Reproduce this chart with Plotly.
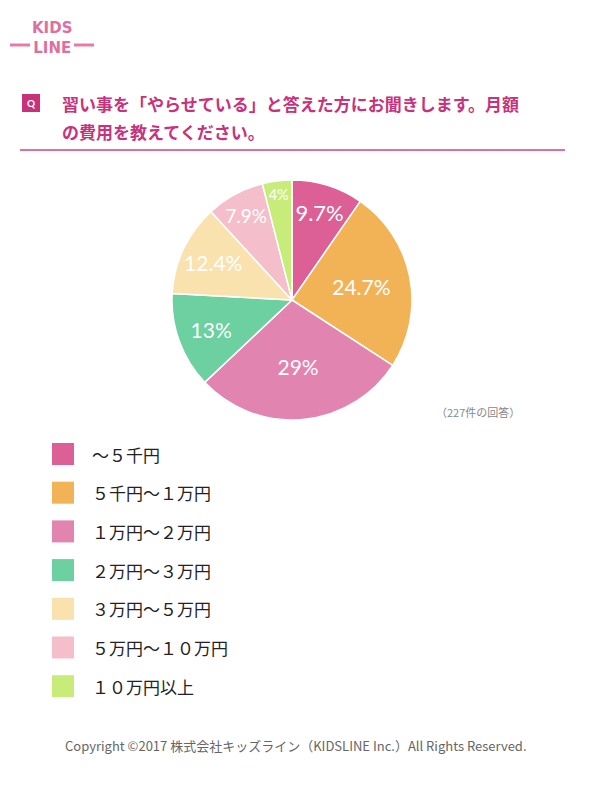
import plotly.graph_objects as go

categories = ["～５千円", "５千円～１万円", "１万円～２万円", "２万円～３万円", "３万円～５万円", "５万円～１０万円", "１０万円以上"]
values = [9.7, 24.7, 29, 13, 12.4, 7.9, 4]
labels_text = ["9.7%", "24.7%", "29%", "13%", "12.4%", "7.9%", "4%"]
colors = ["#dc5f96", "#f2b356", "#e184b0", "#6cd0a0", "#f9e2ad", "#f4bfca", "#c8ec7a"]
label_sizes = [30, 21, 21, 21, 21, 21, 21]

W, H = 600, 800
OX, OY = 8, 8  # page offset compensation
def px(x): return (x - OX) / W
def py(y): return 1 - (y - OY) / H

fig = go.Figure()
fig.add_trace(go.Pie(
    values=values, labels=categories, text=labels_text, textinfo="text",
    sort=False, direction="clockwise", rotation=0,
    marker=dict(colors=colors, line=dict(color="white", width=1.5)),
    textposition="inside", insidetextorientation="horizontal",
    textfont=dict(family="Lato, Noto Sans", size=label_sizes, color="white"),
    domain=dict(x=[px(172), px(412)], y=[py(420), py(180)]),
    showlegend=False, hoverinfo="skip"))

shapes = []
ann = []

# logo
ann.append(dict(x=px(52), y=py(38), text="<b>KIDS<br>LINE</b>", showarrow=False,
                font=dict(family="DejaVu Sans", size=15, color="#e06fa0"), xanchor="center", yanchor="middle"))
shapes.append(dict(type="line", xref="paper", yref="paper", x0=px(10), x1=px(30), y0=py(45), y1=py(45),
                   line=dict(color="#e87aa8", width=3)))
shapes.append(dict(type="line", xref="paper", yref="paper", x0=px(74), x1=px(94), y0=py(45), y1=py(45),
                   line=dict(color="#e87aa8", width=3)))
# Q icon
shapes.append(dict(type="rect", xref="paper", yref="paper", x0=px(22), x1=px(40), y0=py(94), y1=py(112),
                   fillcolor="#c8327a", line=dict(width=0)))
ann.append(dict(x=px(31), y=py(103), text="<b>Q</b>", showarrow=False, xanchor="center", yanchor="middle",
                font=dict(family="Lato", size=10, color="white")))
ann.append(dict(x=px(60), y=py(103), text="<b>習い事を「やらせている」と答えた方にお聞きします。月額</b>",
                showarrow=False, xanchor="left", yanchor="middle",
                font=dict(family="Noto Sans CJK JP", size=17, color="#c8327a")))
ann.append(dict(x=px(60), y=py(131), text="<b>の費用を教えてください。</b>",
                showarrow=False, xanchor="left", yanchor="middle",
                font=dict(family="Noto Sans CJK JP", size=17, color="#c8327a")))
shapes.append(dict(type="line", xref="paper", yref="paper", x0=px(20), x1=px(565), y0=py(150), y1=py(150),
                   line=dict(color="#e06fa0", width=2)))
ann.append(dict(x=px(522), y=py(412), text="（227件の回答）", showarrow=False, xanchor="right", yanchor="middle",
                font=dict(family="Noto Sans CJK JP", size=11, color="#888")))

# legend
for i, (c, col) in enumerate(zip(categories, colors)):
    yc = 454 + i * 38.7
    shapes.append(dict(type="rect", xref="paper", yref="paper", x0=px(52), x1=px(74), y0=py(yc-11), y1=py(yc+11),
                       fillcolor=col, line=dict(width=0)))
    ann.append(dict(x=px(90), y=py(yc), text=c, showarrow=False, xanchor="left", yanchor="middle",
                    font=dict(family="Noto Sans CJK JP", size=17, color="#222")))

ann.append(dict(x=px(296), y=py(745), text="Copyright ©2017 株式会社キッズライン（KIDSLINE Inc.）All Rights Reserved.",
                showarrow=False, yanchor="middle", font=dict(family="Noto Sans CJK JP", size=13, color="#666")))

fig.update_layout(width=W, height=H, margin=dict(l=0, r=0, t=0, b=0), paper_bgcolor="white",
                  plot_bgcolor="white", shapes=shapes, annotations=ann)
fig.write_html("out.html")
